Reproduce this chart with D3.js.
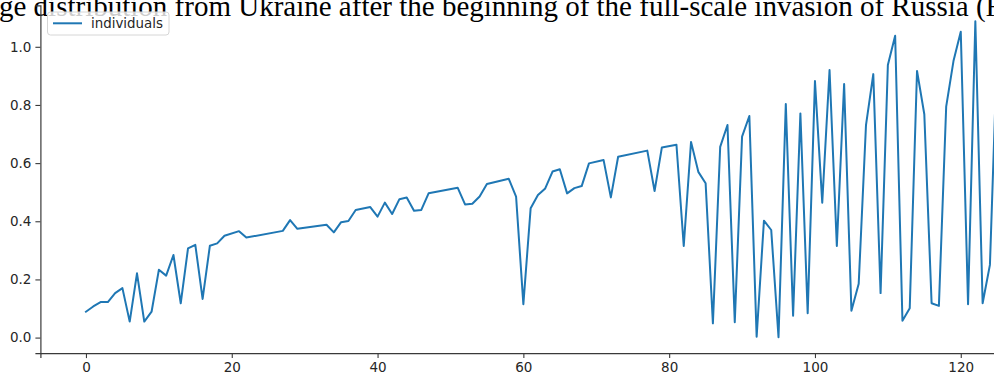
<!DOCTYPE html>
<html>
<head>
<meta charset="utf-8">
<script src="https://cdn.jsdelivr.net/npm/d3@7"></script>
<style>
  html, body { margin: 0; padding: 0; background: #fff; }
  svg { display: block; }
</style>
</head>
<body>
<svg id="chart" width="994" height="376"></svg>
<script>
// Series: index of each observation and its value
const xIndex = [0,1,2,3,4,5,6,7,8,9,10,11,12,13,14,15,16,17,18,19,21,22,27,28,29,33,34,35,36,37,39,40,41,42,43,44,45,46,47,51,52,53,54,55,58,59,60,61,62,63,64,65,66,67,68,69,71,72,73,77,78,79,81,82,83,84,85,86,87,88,89,90,91,92,93,94,95,96,97,98,99,100,101,102,103,104,105,106,107,108,109,110,111,112,113,114,115,116,117,118,119,120,121,122,123,124,125];
const individuals = [0.089,0.107,0.122,0.122,0.153,0.170,0.055,0.221,0.055,0.089,0.233,0.213,0.284,0.118,0.307,0.319,0.133,0.316,0.324,0.350,0.366,0.344,0.367,0.404,0.374,0.388,0.362,0.397,0.401,0.439,0.449,0.416,0.464,0.425,0.476,0.482,0.436,0.439,0.496,0.515,0.458,0.460,0.485,0.528,0.546,0.485,0.115,0.445,0.490,0.513,0.571,0.579,0.496,0.514,0.521,0.599,0.611,0.482,0.622,0.643,0.504,0.654,0.663,0.315,0.673,0.570,0.531,0.049,0.656,0.731,0.053,0.691,0.762,0.003,0.402,0.370,0.001,0.803,0.075,0.771,0.084,0.882,0.464,0.920,0.315,0.872,0.092,0.185,0.731,0.906,0.153,0.937,1.038,0.058,0.101,0.917,0.768,0.118,0.109,0.794,0.951,1.052,0.115,1.088,0.118,0.250,1.000];
const seriesName = "individuals";
const xTicks = [0, 20, 40, 60, 80, 100, 120];
const yTicks = [0.0, 0.2, 0.4, 0.6, 0.8, 1.0];
const titleText = "ge distribution from Ukraine after the beginning of the full-scale invasion of Russia (F";

const svg = d3.select("#chart");
const points = xIndex.map((x, i) => ({ x, y: individuals[i] }));

// 5% padding around the data extent on both axes
const [xMin, xMax] = d3.extent(xIndex);
const xPad = (xMax - xMin) * 0.05;
const [yMin, yMax] = d3.extent(individuals);
const yPad = (yMax - yMin) * 0.05;

const plot = { left: 40.4, top: 5.4, bottom: 353.1 };
const pxPerUnit = 7.29;
const x = d3.scaleLinear()
  .domain([xMin - xPad, xMax + xPad])
  .range([plot.left, plot.left + (xMax - xMin + 2 * xPad) * pxPerUnit]);
const y = d3.scaleLinear()
  .domain([yMin - yPad, yMax + yPad])
  .range([plot.bottom, plot.top]);

const tickFont = "'DejaVu Sans', sans-serif";
const axisColor = "#3a3a3a";

// Title (serif, runs past the visible area)
svg.append("text")
  .attr("x", -1)
  .attr("y", 15.5)
  .attr("font-family", "'Liberation Serif', 'Times New Roman', serif")
  .attr("font-size", 29)
  .attr("fill", "#000")
  .text(titleText);

// Data line
const line = d3.line().x(d => x(d.x)).y(d => y(d.y));
svg.append("path")
  .datum(points)
  .attr("fill", "none")
  .attr("stroke", "#1f77b4")
  .attr("stroke-width", 2)
  .attr("stroke-linejoin", "round")
  .attr("stroke-linecap", "square")
  .attr("d", line);

// Axes
const xAxis = d3.axisBottom(x).tickValues(xTicks).tickFormat(d3.format("d")).tickSizeOuter(0).tickSize(5).tickPadding(4);
const yAxis = d3.axisLeft(y).tickValues(yTicks).tickFormat(d3.format(".1f")).tickSizeOuter(0).tickSize(5).tickPadding(4);

const gx = svg.append("g").attr("transform", `translate(0,${plot.bottom})`).call(xAxis);
const gy = svg.append("g").attr("transform", `translate(${plot.left},0)`).call(yAxis);

[gx, gy].forEach(g => {
  g.select(".domain").attr("stroke", axisColor).attr("stroke-width", 1.2);
  g.selectAll(".tick line").attr("stroke", axisColor).attr("stroke-width", 1.1);
  g.selectAll(".tick text")
    .attr("font-family", tickFont)
    .attr("font-size", 13.5)
    .attr("fill", "#262626");
});

// Legend
const legend = svg.append("g");
legend.append("rect")
  .attr("x", 47.5).attr("y", 12)
  .attr("width", 121.5).attr("height", 23)
  .attr("rx", 3)
  .attr("fill", "#fff").attr("fill-opacity", 0.8)
  .attr("stroke", "#d6d6d6").attr("stroke-width", 1);
legend.append("line")
  .attr("x1", 53).attr("x2", 82)
  .attr("y1", 23.3).attr("y2", 23.3)
  .attr("stroke", "#1f77b4").attr("stroke-width", 2);
legend.append("text")
  .attr("x", 91).attr("y", 23.5)
  .attr("dy", "0.35em")
  .attr("font-family", tickFont)
  .attr("font-size", 13.4)
  .attr("fill", "#262626")
  .text(seriesName);
</script>
</body>
</html>
